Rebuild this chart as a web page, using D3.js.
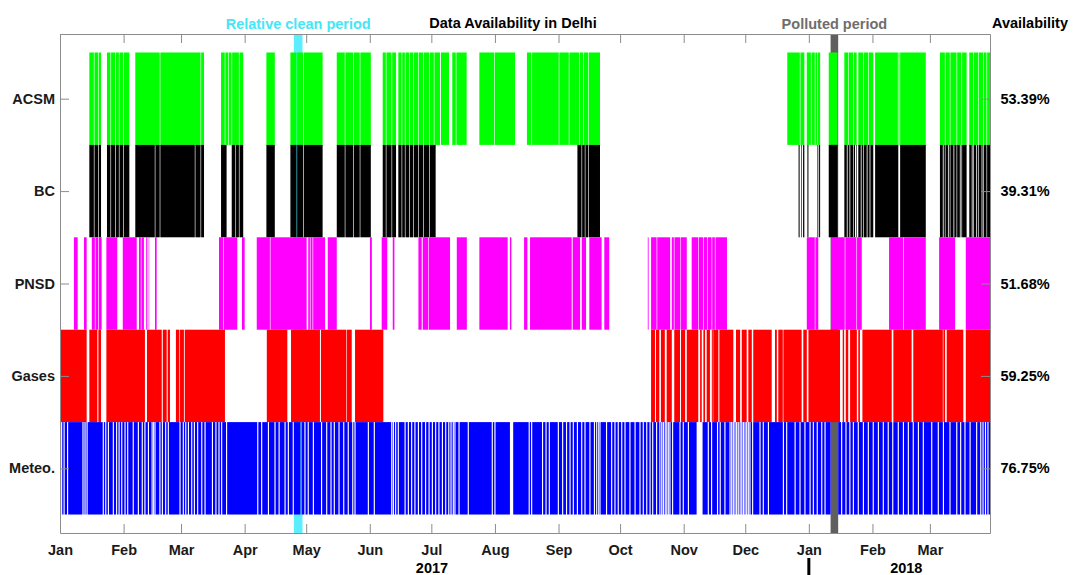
<!DOCTYPE html>
<html>
<head>
<meta charset="utf-8">
<script src="https://cdn.jsdelivr.net/npm/d3@7"></script>
<style>
  body { margin: 0; background: #fff; }
  text { font-family: "Liberation Sans", Arial, sans-serif; font-weight: bold; }
</style>
</head>
<body>
<div class="chart"></div>
<script>
// instruments, top to bottom, with the availability printed on the right
var rows = [`ACSM`, `BC`, `PNSD`, `Gases`, `Meteo.`];
var availability = [`53.39%`, `39.31%`, `51.68%`, `59.25%`, `76.75%`];
var rowColors = [`#00ff00`, `#000000`, `#ff00ff`, `#ff0000`, `#0000ff`];

// measured periods, in days since 2017-01-01
var acsm = [[14.3,16.5],[16.8,18.6],[18.9,20],[22.9,24.6],[24.9,26.9],[27.2,28.7],[29,30.8],[31.1,33.8],
  [36.7,48.6],[48.9,68.5],[68.8,70.2],[78.5,80.3],[80.6,81.9],[82.2,83.6],[83.9,87.2],[87.5,89.3],
  [100.6,104.7],[112.3,115.3],[115.6,118.5],[118.8,128],[134.9,138.8],[139.1,142.9],[143.2,146.1],[146.4,151.5],
  [157.3,158.8],[159.1,161.6],[161.9,163.8],[164.9,166.5],[166.8,168.1],[168.4,170.2],[170.5,172.1],[172.4,174.6],
  [174.9,177],[177.3,179.9],[180.2,182.2],[182.5,185.2],[185.7,189.6],[191.2,192.9],[193.2,198.2],
  [204.4,211.6],[211.9,221.8],[227.6,229.8],[230.1,243.1],[243.4,248],[248.3,253],[253.3,255],[255.3,257.4],[257.7,263.2],
  [354.5,360.6],[360.9,362.8],[364,366],[366.3,367.9],[368.2,369],[369.3,370.5],[374.7,379],
  [382.3,384.1],[384.4,386.6],[386.9,388.3],[389.1,391.5],[391.8,393.9],[394.2,396.4],[397.3,408.4],[408.7,409.2],[409.5,422],
  [428.9,431.3],[431.6,433.7],[434,437],[437.3,439.4],[439.7,441.9],[443.2,445.1],[445.4,447.5],[447.8,450],[450.3,451.6],[451.9,453.3]];

var bc = [[14.3,16.5],[16.8,18.6],[18.9,20],[22.9,24.6],[24.9,26.9],[27.2,28.7],[29,30.8],[31.1,33.8],
  [36.7,46.2],[46.5,48.6],[48.9,65.7],[66,68.5],[68.8,70.2],[78.5,81.2],[83.7,85.5],[85.8,87.2],[87.5,89.3],
  [100.6,104.7],[112.3,115.3],[115.6,118.5],[118.8,128],[134.9,138.8],[139.1,142.9],[143.2,146.1],[146.4,151.5],
  [157.3,158.8],[159.1,161.6],[161.9,163.8],[164.9,166.5],[166.8,168.1],[168.4,170.2],[170.5,172.1],[172.4,174.6],
  [174.9,177],[177.3,179.9],[180.2,183.1],[252.2,254.2],[254.5,255.8],[256.1,257.4],[257.7,263.2],
  [360,360.5],[361.3,361.6],[362.2,362.8],[364.3,364.8],[369.2,369.6],[370,370.5],[374.7,379],
  [382.3,383.5],[383.9,384.8],[385.2,386.6],[386.9,387.5],[388,388.3],[389.1,390.3],[390.7,391.5],[391.8,393.2],[393.6,394.6],[395,396.4],
  [397.3,408.6],[409.5,422],
  [428.9,430.3],[430.7,431.3],[431.6,432.8],[433.2,433.7],[434,435.5],[435.9,437],[437.3,438.6],[439,439.4],[439.7,441.9],
  [443.2,444.4],[444.8,445.1],[445.4,446.6],[447,447.5],[447.8,449.2],[449.6,450],[450.3,451.6],[451.9,453.3]];

var pnsd = [[6.8,8.6],[11.7,13],[15.5,17],[17.3,18.6],[18.9,20.3],[22.6,27.9],[30.6,37.4],[38.5,39.4],[39.7,40.9],
  [41.9,42.3],[42.7,43],[43.3,43.5],[46.3,47.1],[77.5,79.5],[79.8,86.4],[88.7,90],[95.9,102.3],[102.6,120.2],
  [121,121.8],[122.1,123.1],[123.4,129.2],[130.5,134.9],[151.1,152],[156.8,159.5],[162.2,163],
  [174.7,176.3],[176.8,179.4],[179.7,190.1],[193.4,198.3],[204.4,218.2],[219.3,220],[226.2,227.8],
  [229.1,249.4],[249.9,253.5],[254.3,256.4],[258,264],[265.3,267.7],
  [286.5,286.9],[288.1,290.8],[291.1,297.4],[298.2,299.2],[299.5,302.4],[302.7,305.5],
  [307.9,311],[311.3,313.5],[313.8,315.4],[315.7,317.6],[317.9,319.2],[319.5,325.1],
  [364,367.9],[368.2,369.6],[375.8,382.5],[382.8,388.2],[388.5,390.8],[404.1,411],[411.3,422],[428.5,436.3],[441.5,453.3]];

var gases = [[0,13],[14.3,18.2],[18.7,20],[22.6,41.4],[42.4,49.6],[50.1,52],[52.5,53.6],[56.5,58.2],[58.5,60.4],
  [60.8,80.4],[100.8,110.8],[112.6,126.7],[127.2,139.6],[139.9,142.2],[143.8,157.6],
  [288.1,290],[290.5,292.1],[292.9,294.8],[295.7,298.2],[299.4,302.2],[302.7,304.7],[305.5,311.1],[312,312.8],
  [313.6,314.4],[315.2,316.8],[317.7,318.2],[318.4,320.9],[321.4,328.2],[329.5,331.5],[332.3,334.7],[335.5,337.2],
  [337.9,346.9],[348.5,349.4],[350.1,352.3],[352.6,361.5],[362.3,364],[364.8,380.2],[381.5,382.2],[383,384.2],
  [385.1,388.4],[389.1,389.9],[391.1,405.4],[406.2,415.1],[415.9,430.3],[430.6,431.4],[432.2,440.3],[441.5,453.3]];

// meteo runs almost all the time: short dropouts (days) and a few longer ones
var meteoDropouts = [0.8,2,3.7,11.2,12.2,13.2,21.1,22.3,23.6,26,27.6,28.8,30.1,31.7,33,35.7,38.2,40.1,41.4,43.1,
  44.9,45.6,46.3,48.7,49.9,51.5,52.8,58.5,60.1,61.3,62.6,64.2,65.5,67.1,69.1,70.7,74.3,76,77.5,78.8,81.2,
  96.4,98.3,101.6,104.8,106.8,109.7,111.3,113.7,117.5,119.4,121,123.5,127.5,130,132.1,133.7,136,138.3,140.5,
  142.7,143.8,150.3,153.2,161.7,162.5,163.6,164.9,168.2,169.8,171.4,173,174.7,176.3,178.2,179.9,181.5,183.1,
  184.7,186.4,188,189.5,190.6,191.7,192.5,194.5,199,210.7,212,
  228.7,229.9,235.2,236.9,238.5,242.9,245,246.9,248.6,250.2,252.2,254.3,255.9,258.3,260.5,261.6,262.6,263.2,
  266.4,268.9,270.5,272.1,273.8,275.4,277.8,280.3,282.7,284.3,286,287.6,288.9,290.8,292.4,293.3,294.1,295,
  295.7,296.5,297.3,298.6,302.2,303.8,306.3,316,317.6,320.5,321.8,324.1,326.6,327.4,328.2,329,329.8,330.6,
  331.5,332.3,333.1,333.9,334.7,335.5,336.3,337.6,341.2,342.8,345.3,352.6,354.2,358.3,360.7,363.1,365.6,
  367.2,369.1,371.3,372.9,381,383.1,385,386.7,389.1,391.6,394,396.4,398.9,401.3,403.7,405.9,408.6,411.1,
  413.5,415.9,418.4,420.8,424.9,428.1,430.6,433.8,437.1,439,441.1,443.6,446.8,448.8,449.9,451.1,452.3];
var meteoLongGaps = [[219.3,220.9],[310.3,313.2],[375.6,379.3]];

var cleanPeriod = [114, 118.2];
var pollutedPeriod = [375.6, 379.3];
var lastDay = 453.3;
var yearLabels = [{text: `2017`, day: 181.3}, {text: `2018`, day: 412.5}];

var width = 1073, height = 575;
var start = new Date(2017, 0, 1);
var toDate = d => new Date(start.getTime() + d * 864e5);

// meteo periods = everything that is not a dropout
var meteoGaps = meteoDropouts.map(d => [d - 0.28, d + 0.28]).concat(meteoLongGaps).sort((a, b) => a[0] - b[0]);
var meteo = [];
var cur = 0;
meteoGaps.forEach(g => {
    if (g[0] > cur) meteo.push([cur, g[0]]);
    cur = Math.max(cur, g[1]);
});
if (cur < lastDay) meteo.push([cur, lastDay]);

var series = [acsm, bc, pnsd, gases, meteo];

var svg = d3.select(`.chart`)
    .append(`svg`)
    .attr(`width`, width)
    .attr(`height`, height);

var x = d3.scaleTime()
    .domain([start, toDate(lastDay)])
    .range([60, 990]);

var y = d3.scaleLinear()
    .domain([-0.7, 4.7])
    .range([34, 533]);

// highlighted periods sit behind the bars
function band(p, color, label, labelColor) {
    svg.append(`rect`)
        .attr(`x`, x(toDate(p[0])))
        .attr(`y`, y(-0.7))
        .attr(`width`, x(toDate(p[1])) - x(toDate(p[0])))
        .attr(`height`, y(4.7) - y(-0.7))
        .style(`fill`, color);
    svg.append(`text`)
        .attr(`x`, x(toDate((p[0] + p[1]) / 2)))
        .attr(`y`, 28.5)
        .attr(`text-anchor`, `middle`)
        .style(`font-size`, `14.5px`)
        .style(`fill`, labelColor)
        .text(label);
}
band(cleanPeriod, `#5ceefc`, `Relative clean period`, `#45e6f5`);
band(pollutedPeriod, `#5f5f5f`, `Polluted period`, `#6e6e6e`);

series.forEach((s, i) => {
    svg.append(`g`)
        .selectAll(`rect`)
        .data(s)
        .enter()
        .append(`rect`)
        .attr(`x`, d => x(toDate(d[0])))
        .attr(`y`, y(i - 0.5))
        .attr(`width`, d => Math.max(0.4, x(toDate(d[1])) - x(toDate(d[0]))))
        .attr(`height`, y(i + 0.5) - y(i - 0.5))
        .style(`fill`, rowColors[i]);
});

// box axes with inward ticks
var months = d3.timeMonth.range(start, toDate(lastDay + 1));
var bottom = svg.append(`g`)
    .attr(`transform`, `translate(0, 533)`)
    .call(d3.axisBottom(x).tickValues(months).tickFormat(d3.timeFormat(`%b`)).tickSizeInner(-9).tickSizeOuter(0).tickPadding(12));
svg.append(`g`)
    .attr(`transform`, `translate(0, 34)`)
    .call(d3.axisTop(x).tickValues(months).tickFormat(``).tickSizeInner(-9).tickSizeOuter(0));
svg.append(`g`)
    .attr(`transform`, `translate(60, 0)`)
    .call(d3.axisLeft(y).tickValues(d3.range(rows.length)).tickFormat(i => rows[i]).tickSizeInner(-9).tickSizeOuter(0).tickPadding(5));
svg.append(`g`)
    .attr(`transform`, `translate(990, 0)`)
    .call(d3.axisRight(y).tickValues(d3.range(rows.length)).tickFormat(``).tickSizeInner(-9).tickSizeOuter(0));

svg.selectAll(`.domain, .tick line`).style(`stroke`, `#8c8c8c`);
svg.selectAll(`.tick text`).style(`font-size`, `14.5px`).style(`fill`, `#1a1a1a`);
bottom.selectAll(`.tick text`).attr(`dy`, `0.71em`);

svg.selectAll(`.avail`)
    .data(availability)
    .enter()
    .append(`text`)
    .attr(`x`, 1025)
    .attr(`y`, (d, i) => y(i))
    .attr(`dy`, `0.35em`)
    .attr(`text-anchor`, `middle`)
    .style(`font-size`, `14.5px`)
    .text(d => d);

svg.append(`text`)
    .attr(`x`, 1030)
    .attr(`y`, 28)
    .attr(`text-anchor`, `middle`)
    .style(`font-size`, `14.5px`)
    .text(`Availability`);

svg.append(`text`)
    .attr(`x`, 513)
    .attr(`y`, 27.5)
    .attr(`text-anchor`, `middle`)
    .style(`font-size`, `14.5px`)
    .text(`Data Availability in Delhi`);

svg.selectAll(`.year`)
    .data(yearLabels)
    .enter()
    .append(`text`)
    .attr(`x`, d => x(toDate(d.day)))
    .attr(`y`, 573)
    .attr(`text-anchor`, `middle`)
    .style(`font-size`, `14.5px`)
    .text(d => d.text);

// year break marker under Jan 2018
svg.append(`line`)
    .attr(`x1`, x(new Date(2018, 0, 1)))
    .attr(`x2`, x(new Date(2018, 0, 1)))
    .attr(`y1`, 558)
    .attr(`y2`, 575)
    .style(`stroke`, `#000`)
    .style(`stroke-width`, 3);
</script>
</body>
</html>
